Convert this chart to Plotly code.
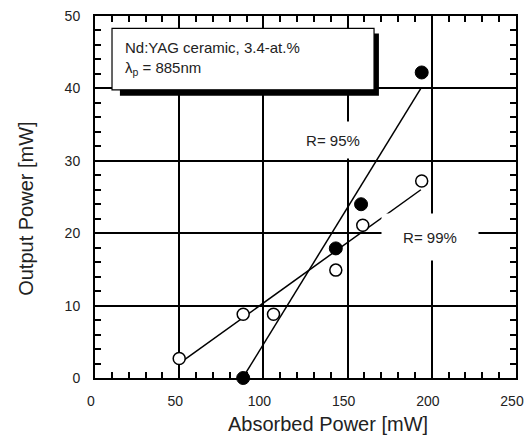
import plotly.graph_objects as go

# Data
r95_x = [88, 143, 158, 194]
r95_y = [0.0, 17.9, 24.0, 42.2]
r99_x = [50, 88, 106, 143, 159, 194]
r99_y = [2.7, 8.8, 8.8, 14.9, 21.1, 27.2]
fit95_x = [89, 193.5]
fit95_y = [0.5, 40.0]
fit99_x = [53, 193.5]
fit99_y = [2.5, 26.0]

x_ticks = [0, 50, 100, 150, 200, 250]
y_ticks = [0, 10, 20, 30, 40, 50]

box_line1 = "Nd:YAG ceramic, 3.4-at.%"
box_line2 = "λ<sub>p</sub> = 885nm"
label95 = "R= 95%"
label99 = "R= 99%"
xtitle = "Absorbed Power [mW]"
ytitle = "Output Power [mW]"

FONT = "Liberation Sans, Arial, sans-serif"
TXT = "#222222"

fig = go.Figure()
fig.add_trace(go.Scatter(x=fit95_x, y=fit95_y, mode="lines",
                         line=dict(color="black", width=1.5), showlegend=False))
fig.add_trace(go.Scatter(x=fit99_x, y=fit99_y, mode="lines",
                         line=dict(color="black", width=1.5), showlegend=False))
fig.add_trace(go.Scatter(x=r99_x, y=r99_y, mode="markers", cliponaxis=False,
                         marker=dict(size=12, color="white", line=dict(color="black", width=1.5)),
                         showlegend=False))
fig.add_trace(go.Scatter(x=r95_x, y=r95_y, mode="markers", cliponaxis=False,
                         marker=dict(size=13, color="black", line=dict(color="black", width=1)),
                         showlegend=False))

axis_common = dict(
    showline=True, linecolor="black", linewidth=2, mirror="allticks",
    showgrid=True, gridcolor="black", gridwidth=1.5,
    ticks="inside", ticklen=6, tickwidth=1.5, tickcolor="black",
    zeroline=False, automargin=False, ticklabeloverflow="allow",
    tickfont=dict(family=FONT, size=14, color=TXT),
)

fig.update_xaxes(range=[0, 250], tickmode="array", tickvals=x_ticks,
                 ticktext=[str(v) for v in x_ticks], ticklabelstandoff=9,
                 ticklabelshift=-4,
                 minor=dict(ticks="inside", dtick=10, tick0=0, ticklen=6,
                            tickwidth=1.5, tickcolor="black", showgrid=False),
                 **axis_common)
fig.update_yaxes(range=[0, 50], tickmode="array", tickvals=y_ticks,
                 ticktext=[str(v) for v in y_ticks], ticklabelstandoff=10,
                 minor=dict(ticks="inside", dtick=2, tick0=0, ticklen=6,
                            tickwidth=1.5, tickcolor="black", showgrid=False),
                 **axis_common)

# Text box with shadow
fig.add_shape(type="rect", xref="x", yref="y", x0=14.8, x1=168.6, y0=39.0, y1=47.6,
              fillcolor="black", line=dict(width=0), layer="above")
fig.add_shape(type="rect", xref="x", yref="y", x0=10.1, x1=165.7, y0=39.8, y1=48.3,
              fillcolor="white", line=dict(color="black", width=1.2), layer="above")

fig.add_annotation(x=16.6, y=45.6, xref="x", yref="y", text=box_line1, showarrow=False,
                   xanchor="left", yanchor="middle", font=dict(family=FONT, size=15, color=TXT))
fig.add_annotation(x=16.6, y=42.7, xref="x", yref="y", text=box_line2, showarrow=False,
                   xanchor="left", yanchor="middle", font=dict(family=FONT, size=15, color=TXT))

fig.add_annotation(x=141.5, y=32.9, xref="x", yref="y", text=label95, showarrow=False,
                   bgcolor="white", width=72, height=34,
                   font=dict(family=FONT, size=15, color=TXT))
fig.add_annotation(x=199, y=19.5, xref="x", yref="y", text=label99, showarrow=False,
                   bgcolor="white", width=94, height=44,
                   font=dict(family=FONT, size=15, color=TXT))

fig.add_annotation(x=0.553, y=-0.127, xref="paper", yref="paper", text=xtitle, showarrow=False,
                   xanchor="center", yanchor="middle", font=dict(family=FONT, size=20, color=TXT))
fig.add_annotation(x=-0.164, y=0.47, xref="paper", yref="paper", text=ytitle, showarrow=False,
                   textangle=-90, xanchor="center", yanchor="middle",
                   font=dict(family=FONT, size=20, color=TXT))

fig.update_layout(width=525, height=444, margin=dict(l=95, r=9, t=16, b=66),
                  plot_bgcolor="white", paper_bgcolor="white", showlegend=False)

fig.write_html("out.html")
